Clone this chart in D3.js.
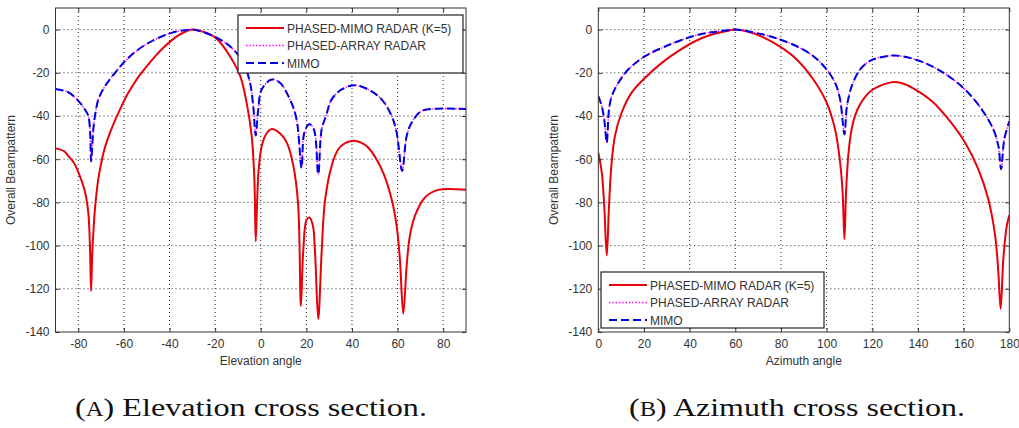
<!DOCTYPE html>
<html><head><meta charset="utf-8">
<script src="https://cdn.jsdelivr.net/npm/d3@7"></script>
<style>
html,body{margin:0;padding:0;background:#fff;}
</style></head>
<body><svg id="c" width="1019" height="428"></svg>
<script>
// ---------- DATA ----------
const yTicks = [0, -20, -40, -60, -80, -100, -120, -140];
const elevTicks = [-80, -60, -40, -20, 0, 20, 40, 60, 80];
const aziTicks = [0, 20, 40, 60, 80, 100, 120, 140, 160, 180];
const seriesNames = ["PHASED-MIMO RADAR (K=5)", "PHASED-ARRAY RADAR", "MIMO"];
const captions = ["Elevation cross section.", "Azimuth cross section."];

// Elevation cross section: [angle, dB]
const elevPhasedMimo = [[-90,-55],[-86,-56.5],[-84.4,-58.5],[-82,-61.5],[-80,-66],[-77.1,-75],[-75.6,-85],[-74.9,-100],[-74.4,-121],[-73.9,-104],[-73.4,-94],[-72.7,-83],[-71.2,-69],[-69.6,-60],[-68.3,-54.5],[-66,-47.5],[-63.9,-42],[-61.5,-36.5],[-59.5,-32],[-56.5,-26.5],[-53.7,-22],[-50,-17],[-46.4,-12.5],[-42.5,-8.2],[-39.1,-5],[-36,-2.6],[-33.2,-1],[-30,0],[-26,-0.8],[-22,-2.3],[-19,-4.6],[-13.5,-12.3],[-9,-21.5],[-6.2,-33.8],[-4,-49],[-2.8,-69],[-2.2,-98],[-1.6,-80],[-1,-66],[0.4,-54],[2.6,-48],[4.8,-46],[8.4,-48],[11.4,-52.3],[14.3,-63],[16.4,-81],[17.6,-128],[18.6,-103],[20.1,-88],[21.3,-87],[22.8,-90.5],[23.8,-103],[25.2,-134],[26.7,-103],[28.2,-79],[31.1,-63],[34,-55.4],[37,-52.6],[40.6,-51.5],[44,-52.3],[47.1,-54.6],[53,-64.6],[57.4,-78.5],[59.6,-91],[61,-106],[62.5,-131.5],[64,-109],[65.4,-95.4],[67.6,-86.2],[72,-77.7],[77.8,-74.2],[90,-74.2]];
const elevPhasedArray = [[-90,-27.5],[-84.4,-29],[-80,-33],[-77.1,-37],[-75.6,-40],[-74.8,-48],[-74.4,-61],[-73.4,-46],[-72.7,-40],[-71.2,-32.3],[-68.3,-26.2],[-63.9,-20],[-59.5,-14.6],[-53.7,-9.2],[-46.4,-4.6],[-39.1,-1.5],[-33.2,-0.3],[-30,0],[-22.3,-2.3],[-13.5,-7.7],[-7.7,-15.4],[-4.7,-24.6],[-3.3,-35.4],[-2.2,-49],[-1.1,-37],[0.4,-27.7],[4.8,-23.1],[8.4,-24.6],[12.8,-32.3],[15.7,-41.5],[17.9,-64],[19.1,-47.7],[21.3,-43.8],[23.3,-46.2],[25.2,-67],[26.7,-46.2],[28.6,-40],[31.1,-32.3],[35.5,-27.7],[41.3,-25.8],[47.1,-27.7],[53,-32.3],[57.4,-40],[59.6,-47.7],[62,-65.4],[64,-49.2],[66.2,-43],[70.5,-37.7],[77.8,-36.6],[90,-36.8]];
const elevMimo = [[-90,-27.5],[-84.4,-29],[-80,-33],[-77.1,-37],[-75.6,-40],[-74.8,-48],[-74.4,-61],[-73.4,-46],[-72.7,-40],[-71.2,-32.3],[-68.3,-26.2],[-63.9,-20],[-59.5,-14.6],[-53.7,-9.2],[-46.4,-4.6],[-39.1,-1.5],[-33.2,-0.3],[-30,0],[-22.3,-2.3],[-13.5,-7.7],[-7.7,-15.4],[-4.7,-24.6],[-3.3,-35.4],[-2.2,-49],[-1.1,-37],[0.4,-27.7],[4.8,-23.1],[8.4,-24.6],[12.8,-32.3],[15.7,-41.5],[17.9,-64],[19.1,-47.7],[21.3,-43.8],[23.3,-46.2],[25.2,-67],[26.7,-46.2],[28.6,-40],[31.1,-32.3],[35.5,-27.7],[41.3,-25.8],[47.1,-27.7],[53,-32.3],[57.4,-40],[59.6,-47.7],[62,-65.4],[64,-49.2],[66.2,-43],[70.5,-37.7],[77.8,-36.6],[90,-36.8]];

// Azimuth cross section: [angle, dB]
const aziPhasedMimo = [[0,-57],[1.5,-66],[2.6,-81.5],[3.7,-104.6],[4.7,-81.5],[5.8,-62],[7.3,-49.2],[10.2,-38.5],[14.6,-29.2],[20.5,-22.3],[27.8,-15.4],[35,-10],[42.4,-5.4],[49.7,-2.3],[56.9,-0.5],[60,0],[65,-0.8],[72.3,-3.6],[79.6,-7.9],[86.9,-13.8],[94.2,-23.1],[100,-33.8],[103.7,-46.2],[105.9,-61.5],[107,-75.4],[107.8,-97],[108.5,-75.4],[109.5,-58],[110.5,-49],[111.7,-42.5],[113.5,-37],[115.4,-33.3],[117.5,-30.3],[119.5,-28.3],[122.6,-26.4],[126,-25],[130,-24.3],[134,-25.2],[138.7,-27.7],[146,-33.1],[153.3,-41.5],[160.6,-52.3],[166.4,-64.6],[170.8,-78.5],[173.8,-95.4],[175.2,-112.3],[176.2,-129.2],[177.4,-106],[178.9,-90.8],[180,-86]];
const aziPhasedArray = [[0,-30.8],[1.5,-35.4],[2.6,-41.5],[3.7,-52.3],[4.7,-36.9],[5.9,-30.8],[8.8,-24.6],[13.1,-18.5],[20.5,-12.3],[27.8,-8.5],[35,-5.4],[42.4,-2.8],[49.7,-1.2],[56.9,-0.3],[60,0],[72.3,-2.3],[79.6,-4.6],[86.9,-7.7],[94.2,-12.3],[100,-18.5],[103.7,-24.6],[105.9,-32.3],[107.8,-48.5],[108.9,-35.4],[111,-26.2],[114.6,-18.5],[119,-14.5],[122.6,-13.1],[130,-12],[138.7,-13.8],[146,-16.9],[153.3,-21.5],[160.6,-27.7],[167.9,-36.9],[173,-46.2],[175.2,-53.8],[176.4,-64.6],[177.8,-50.8],[180,-42.5]];
const aziMimo = [[0,-30.8],[1.5,-35.4],[2.6,-41.5],[3.7,-52.3],[4.7,-36.9],[5.9,-30.8],[8.8,-24.6],[13.1,-18.5],[20.5,-12.3],[27.8,-8.5],[35,-5.4],[42.4,-2.8],[49.7,-1.2],[56.9,-0.3],[60,0],[72.3,-2.3],[79.6,-4.6],[86.9,-7.7],[94.2,-12.3],[100,-18.5],[103.7,-24.6],[105.9,-32.3],[107.8,-48.5],[108.9,-35.4],[111,-26.2],[114.6,-18.5],[119,-14.5],[122.6,-13.1],[130,-12],[138.7,-13.8],[146,-16.9],[153.3,-21.5],[160.6,-27.7],[167.9,-36.9],[173,-46.2],[175.2,-53.8],[176.4,-64.6],[177.8,-50.8],[180,-42.5]];

// ---------- DRAWING ----------
const svg = d3.select("#c");
const SANS = "'Liberation Sans', Arial, sans-serif";
const SERIF = "'Liberation Serif', 'DejaVu Serif', serif";
const styles = [
  {stroke:"#e8000b", width:2, dash:null},
  {stroke:"#ff00ff", width:1.4, dash:"1.5,1.8"},
  {stroke:"#0000e0", width:2, dash:"8,4"}
];
const fmt = d => String(d);

function panel(opt){
  const g = svg.append("g");
  const x = d3.scaleLinear().domain(opt.xDomain).range([opt.left, opt.right]);
  const y = d3.scaleLinear().domain([-140, 10]).range([332, 8]);
  const top = y(10), bot = y(-140);
  // grid
  g.append("g").selectAll("line").data(opt.xTicks.filter(t => t!==opt.xDomain[0] && t!==opt.xDomain[1]))
    .join("line").attr("x1", d=>x(d)).attr("x2", d=>x(d)).attr("y1", top).attr("y2", bot)
    .attr("stroke","#222").attr("stroke-width",1).attr("stroke-dasharray","1,3");
  g.append("g").selectAll("line").data(yTicks.filter(t => t!==-140))
    .join("line").attr("x1", opt.left).attr("x2", opt.right).attr("y1", d=>y(d)).attr("y2", d=>y(d))
    .attr("stroke","#222").attr("stroke-width",1).attr("stroke-dasharray","1,3");
  // curves
  const line = d3.line().x(d=>x(d[0])).y(d=>y(d[1])).curve(d3.curveCatmullRom.alpha(0.5));
  const clipId = "clip"+opt.id;
  g.append("clipPath").attr("id",clipId).append("rect")
    .attr("x",opt.left).attr("y",top).attr("width",opt.right-opt.left).attr("height",bot-top);
  opt.series.forEach((s,i)=>{
    g.append("path").datum(s).attr("d",line).attr("fill","none")
      .attr("stroke",styles[i].stroke).attr("stroke-width",styles[i].width)
      .attr("stroke-dasharray",styles[i].dash).attr("stroke-linejoin","round")
      .attr("clip-path",`url(#${clipId})`);
  });
  // axes with inside ticks (matlab style)
  const xb = d3.axisBottom(x).tickValues(opt.xTicks).tickSize(-4).tickPadding(7).tickFormat(fmt);
  const xt = d3.axisTop(x).tickValues(opt.xTicks).tickSize(-4).tickFormat("");
  const yl = d3.axisLeft(y).tickValues(yTicks).tickSize(-4).tickPadding(6).tickFormat(fmt);
  const yr = d3.axisRight(y).tickValues(yTicks).tickSize(-4).tickFormat("");
  const ax = [
    g.append("g").attr("transform",`translate(0,${bot})`).call(xb),
    g.append("g").attr("transform",`translate(0,${top})`).call(xt),
    g.append("g").attr("transform",`translate(${opt.left},0)`).call(yl),
    g.append("g").attr("transform",`translate(${opt.right},0)`).call(yr)
  ];
  ax.forEach(a=>{
    a.select(".domain").remove();
    a.selectAll("text").attr("font-size",12).attr("fill","#333").attr("font-family",SANS);
    a.selectAll("line").attr("stroke","#333");
  });
  g.append("rect").attr("x",opt.left).attr("y",top).attr("width",opt.right-opt.left).attr("height",bot-top)
    .attr("fill","none").attr("stroke","#333").attr("stroke-width",1);
  // labels
  g.append("text").attr("x",(opt.left+opt.right)/2).attr("y",365).attr("text-anchor","middle")
    .attr("font-family",SANS).attr("font-size",12).attr("fill","#333").text(opt.xLabel);
  g.append("text").attr("transform",`translate(${opt.yLabelX},170) rotate(-90)`).attr("text-anchor","middle")
    .attr("font-family",SANS).attr("font-size",12).attr("fill","#333").text("Overall Beampattern");
  // legend
  const L = opt.legend;
  const lg = g.append("g");
  lg.append("rect").attr("x",L.x).attr("y",L.y).attr("width",L.w).attr("height",L.h)
    .attr("fill","#fff").attr("stroke","#222").attr("stroke-width",1.2);
  seriesNames.forEach((n,i)=>{
    const yy = L.y + 13 + i*17.5;
    lg.append("line").attr("x1",L.x+8).attr("x2",L.x+46).attr("y1",yy).attr("y2",yy)
      .attr("stroke",styles[i].stroke).attr("stroke-width",styles[i].width).attr("stroke-dasharray",styles[i].dash);
    lg.append("text").attr("x",L.x+49).attr("y",yy+4.5).attr("font-family",SANS).attr("font-size",12).attr("fill","#333").text(n);
  });
  // caption
  const cap = svg.append("text").attr("x",opt.capX).attr("y",416)
    .attr("font-family",SERIF).attr("font-size",26).attr("fill","#111")
    .attr("textLength",opt.capW).attr("lengthAdjust","spacingAndGlyphs");
  cap.append("tspan").text("(");
  cap.append("tspan").attr("font-size",20).text(opt.capLetter);
  cap.append("tspan").text(") " + opt.caption);
}

panel({id:"a", xDomain:[-90,90], xTicks:elevTicks, left:55.5, right:466, xLabel:"Elevation angle",
  yLabelX:15, series:[elevPhasedMimo, elevPhasedArray, elevMimo],
  legend:{x:238, y:15, w:225, h:58}, capX:75, capW:352, capLetter:"A", caption:captions[0]});
panel({id:"b", xDomain:[0,180], xTicks:aziTicks, left:598.3, right:1009.3, xLabel:"Azimuth angle",
  yLabelX:558, series:[aziPhasedMimo, aziPhasedArray, aziMimo],
  legend:{x:601, y:272, w:223, h:56}, capX:629, capW:336, capLetter:"B", caption:captions[1]});
</script></body></html>
